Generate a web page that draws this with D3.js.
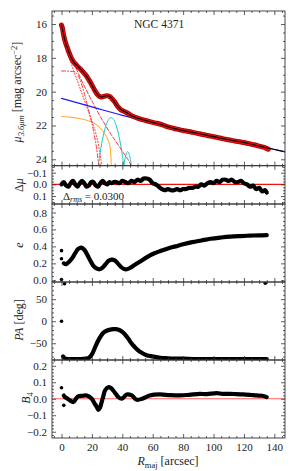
<!DOCTYPE html>
<html>
<head>
<meta charset="utf-8">
<script src="https://cdn.jsdelivr.net/npm/d3@7"></script>
<style>
  body { margin: 0; background: #fff; }
  svg text { font-family: "Liberation Serif", "DejaVu Serif", serif; fill: #222; }
</style>
</head>
<body>
<svg id="chart" width="293" height="471"></svg>
<script>
// surface brightness profile (data)
var profR = [0, 0.5, 1, 1.5, 2, 3, 4, 5, 6, 7, 8, 9, 10, 11, 12, 13, 14, 15, 16, 17, 18, 19, 20, 21, 22, 23, 24, 25, 26, 27, 28, 29, 30, 31, 32, 33, 34, 35, 36, 37, 38, 39, 40, 41, 42, 43, 44, 45, 46, 47, 48, 50, 52, 54, 56, 58, 60, 62, 64, 66, 68, 70, 72, 74, 76, 78, 80, 82, 84, 86, 88, 90, 92, 94, 96, 98, 100, 102, 104, 106, 108, 110, 112, 114, 116, 118, 120, 122, 124, 126, 128, 130, 132, 134, 136];
var profMu = [16.06, 16.2, 16.45, 16.7, 16.9, 17.2, 17.45, 17.7, 17.92, 18.1, 18.25, 18.35, 18.45, 18.55, 18.62, 18.72, 18.82, 18.92, 19.02, 19.15, 19.3, 19.45, 19.62, 19.78, 19.95, 20.1, 20.2, 20.28, 20.32, 20.3, 20.28, 20.25, 20.24, 20.26, 20.3, 20.4, 20.5, 20.6, 20.75, 20.88, 20.98, 21.07, 21.12, 21.16, 21.2, 21.25, 21.3, 21.36, 21.42, 21.46, 21.5, 21.56, 21.62, 21.67, 21.72, 21.77, 21.82, 21.86, 21.9, 21.95, 22.02, 22.08, 22.13, 22.18, 22.22, 22.26, 22.3, 22.33, 22.36, 22.4, 22.44, 22.48, 22.52, 22.55, 22.59, 22.62, 22.66, 22.7, 22.74, 22.78, 22.82, 22.85, 22.88, 22.92, 22.95, 22.98, 23.01, 23.05, 23.09, 23.13, 23.17, 23.22, 23.27, 23.32, 23.4];

// total model
var modelR = [0, 1, 2, 3, 4, 5, 6, 8, 10, 12, 14, 16, 18, 20, 22, 24, 26, 28, 30, 32, 34, 36, 38, 40, 42, 44, 46, 48, 52, 56, 60, 65, 70, 75, 80, 90, 100, 110, 120, 130, 140, 147];
var modelMu = [16.06, 16.45, 16.9, 17.2, 17.45, 17.7, 17.92, 18.25, 18.45, 18.62, 18.82, 19.02, 19.3, 19.62, 19.95, 20.2, 20.32, 20.28, 20.24, 20.3, 20.5, 20.75, 20.98, 21.12, 21.2, 21.3, 21.42, 21.5, 21.62, 21.72, 21.82, 21.93, 22.08, 22.2, 22.3, 22.48, 22.66, 22.85, 23.01, 23.22, 23.42, 23.56];

// components
var diskR = [0, 20, 40, 60, 80, 100, 120, 147];
var diskMu = [20.4, 20.9, 21.4, 21.84, 22.3, 22.66, 23.01, 23.56];
var bulgeR = [0, 2, 4, 6, 8, 10, 12, 14, 16, 18, 20, 23, 26, 29, 32, 35, 38, 41, 44, 46];
var bulgeMu = [16.3, 16.9, 17.45, 17.9, 18.3, 18.7, 19.1, 19.5, 19.85, 20.2, 20.55, 21.05, 21.55, 22.0, 22.45, 22.85, 23.25, 23.65, 24.05, 24.4];
var barR = [3, 5, 7, 9, 11, 13, 15, 17, 19, 21, 23, 25, 26.5];
var barMu = [17.6, 18.0, 18.5, 19.0, 19.5, 20.0, 20.5, 21.0, 21.5, 22.0, 22.6, 23.5, 24.4];
var lensR = [0, 3, 6, 9, 11, 13, 15, 17, 19, 21, 23, 24.5];
var lensMu = [18.78, 18.78, 18.8, 18.85, 19.05, 19.5, 20.1, 20.8, 21.5, 22.3, 23.3, 24.4];
var flatR = [0, 5, 10, 15, 20, 24, 27, 29.5, 31, 32, 32.5, 32.7];
var flatMu = [21.48, 21.5, 21.56, 21.65, 21.8, 22.02, 22.3, 22.65, 22.95, 23.3, 23.8, 24.4];
var ring1R = [24.2, 25, 26, 27, 28, 29, 30, 31, 32, 32.6, 33.5, 35, 36, 37, 38, 39, 40, 41];
var ring1Mu = [24.4, 23.88, 23.3, 22.81, 22.4, 22.06, 21.81, 21.64, 21.55, 21.54, 21.57, 21.77, 22.01, 22.32, 22.72, 23.2, 23.76, 24.4];
var ring2R = [41, 42, 43, 43.5, 44, 45, 46];
var ring2Mu = [24.4, 23.86, 23.58, 23.55, 23.58, 23.86, 24.4];

// residuals
var resR = [0, 1.5, 3, 4.5, 6, 7.5, 9, 10.5, 12, 13.5, 15, 16.5, 18, 19.5, 21, 22.5, 24, 25.5, 27, 28.5, 30, 31.5, 33, 34.5, 36, 38, 40, 42, 44, 46, 48, 50, 52, 54, 56, 58, 60, 62, 64, 66, 68, 70, 72, 74, 76, 78, 80, 82, 84, 86, 88, 90, 92, 94, 96, 98, 100, 102, 104, 106, 108, 110, 112, 114, 116, 118, 120, 122, 124, 126, 128, 130, 132, 134, 135];
var resDmu = [0.0, -0.02, 0.01, 0.02, -0.01, -0.03, 0.0, 0.02, -0.01, -0.03, -0.01, 0.02, 0.01, -0.02, -0.02, 0.01, 0.02, -0.01, -0.03, -0.01, 0.0, -0.02, -0.01, -0.02, -0.02, -0.01, -0.03, -0.02, -0.01, -0.03, -0.02, -0.04, -0.03, -0.05, -0.05, -0.04, -0.01, 0.0, 0.02, 0.04, 0.05, 0.04, 0.05, 0.05, 0.04, 0.05, 0.04, 0.04, 0.03, 0.03, 0.02, 0.02, 0.0, 0.01, -0.01, -0.02, -0.01, -0.03, -0.02, -0.04, -0.04, -0.03, -0.04, -0.02, -0.02, -0.03, -0.01, 0.0, 0.02, 0.01, 0.04, 0.03, 0.06, 0.05, 0.07];
var rmsText = "0.0300";

// ellipticity
var ellR = [1.5, 3, 5, 7, 9, 11, 13, 15, 17, 19, 21, 23, 25, 27, 29, 31, 33, 35, 37, 39, 41, 43, 45, 48, 52, 56, 60, 65, 70, 75, 80, 86, 92, 98, 105, 111, 118, 124, 130, 135];
var ellE = [0.2, 0.19, 0.22, 0.26, 0.32, 0.37, 0.385, 0.36, 0.3, 0.23, 0.17, 0.14, 0.13, 0.15, 0.19, 0.23, 0.245, 0.235, 0.2, 0.16, 0.135, 0.13, 0.145, 0.18, 0.225, 0.27, 0.31, 0.345, 0.375, 0.4, 0.425, 0.45, 0.47, 0.49, 0.505, 0.515, 0.522, 0.527, 0.53, 0.532];
var ellOutR = [0, 0, 0];
var ellOutE = [0.35, 0.255, 0.01];

// position angle
var paR = [1, 2, 4, 8, 12, 16, 18, 20, 22, 24, 26, 28, 30, 32, 34, 36, 38, 40, 42, 44, 46, 48, 50, 53, 56, 60, 65, 70, 80, 90, 100, 110, 120, 135];
var paDeg = [-80, -84, -86, -86, -86, -85, -83, -75, -60, -45, -33, -25, -21, -19, -18, -18, -20, -24, -31, -40, -50, -58, -65, -72, -77, -80, -83, -84, -85, -86, -86, -86, -86, -86];
var paOutR = [0, 2, 134];
var paOutDeg = [0, 85, 86];

// B4
var b4R = [1.5, 2.3, 4, 5.6, 7.8, 9.5, 11, 14, 16.6, 19.9, 21.5, 23.2, 24.2, 25.3, 26.4, 27.5, 28.6, 30.8, 32.5, 34, 35.7, 37.4, 39.6, 41.2, 42.9, 46.2, 49.5, 53, 58, 64.8, 71, 78, 84, 91, 95.5, 102, 106, 111, 115, 119.6, 124, 128, 132, 135];
var b4Val = [0.02, 0.01, 0.0, -0.01, -0.02, 0.0, 0.014, 0.018, 0.02, 0.0, -0.025, -0.05, -0.067, -0.055, -0.02, 0.015, 0.05, 0.07, 0.065, 0.05, 0.03, 0.01, 0.0, 0.012, 0.026, 0.02, -0.006, 0.0, 0.02, 0.026, 0.022, 0.02, 0.024, 0.03, 0.028, 0.034, 0.03, 0.03, 0.028, 0.026, 0.024, 0.02, 0.018, 0.01];
var b4OutR = [0, 1.5];
var b4OutVal = [0.067, -0.04];

// x ticks
var xTicks = [0, 20, 40, 60, 80, 100, 120, 140];

var svg = d3.select("#chart");
var left = 52, right = 285;
var x = d3.scaleLinear().domain([-6.25, 147]).range([left, right]);

var panels = [
  { top: 11, bottom: 165.7, dom: [15.23, 24.38], major: [16, 18, 20, 22, 24], minor: d3.range(15.5, 24.3, 0.5), fmt: d3.format("d") },
  { top: 165.7, bottom: 204, dom: [-0.16, 0.168], major: [-0.1, 0, 0.1], minor: d3.range(-0.15, 0.16, 0.025), fmt: d3.format(".1f") },
  { top: 204, bottom: 282, dom: [0.9, -0.02], major: [0, 0.2, 0.4, 0.6, 0.8], minor: d3.range(0, 0.9, 0.05), fmt: d3.format(".1f") },
  { top: 282, bottom: 360, dom: [89, -88], major: [-50, 0, 50], minor: d3.range(-80, 81, 10), fmt: d3.format("d") },
  { top: 360, bottom: 438, dom: [0.235, -0.238], major: [-0.2, -0.1, 0, 0.1, 0.2], minor: d3.range(-0.22, 0.23, 0.02), fmt: d3.format(".1f") }
];

var xMinor = d3.range(-5, 146, 5);

panels.forEach(function (p, i) {
  p.y = d3.scaleLinear().domain(p.dom).range([p.top, p.bottom]);
  var clipId = "clip" + i;
  svg.append("clipPath").attr("id", clipId).append("rect")
    .attr("x", left).attr("y", p.top).attr("width", right - left).attr("height", p.bottom - p.top);
  p.g = svg.append("g").attr("clip-path", "url(#" + clipId + ")");
});

function axisStyle(sel) {
  sel.select(".domain").remove();
  sel.selectAll("line").attr("stroke", "#333").attr("stroke-width", 0.8);
  sel.selectAll("text").attr("font-size", 11).attr("font-family", "Liberation Serif").attr("fill", "#222");
}

// frames and ticks
panels.forEach(function (p, i) {
  var isLast = i === panels.length - 1;
  var minorY = p.minor.filter(function (v) { return !p.major.some(function (m) { return Math.abs(m - v) < 1e-6; }); });
  var minorX = xMinor.filter(function (v) { return v % 20 !== 0; });

  svg.append("g").attr("transform", "translate(" + left + ",0)")
    .call(d3.axisLeft(p.y).tickValues(p.major).tickSize(-4).tickPadding(5).tickFormat(p.fmt)).call(axisStyle);
  svg.append("g").attr("transform", "translate(" + left + ",0)")
    .call(d3.axisLeft(p.y).tickValues(minorY).tickSize(-2).tickFormat("")).call(axisStyle);
  svg.append("g").attr("transform", "translate(" + right + ",0)")
    .call(d3.axisRight(p.y).tickValues(p.major).tickSize(-4).tickFormat("")).call(axisStyle);
  svg.append("g").attr("transform", "translate(" + right + ",0)")
    .call(d3.axisRight(p.y).tickValues(minorY).tickSize(-2).tickFormat("")).call(axisStyle);

  svg.append("g").attr("transform", "translate(0," + p.top + ")")
    .call(d3.axisTop(x).tickValues(xTicks).tickSize(-4).tickFormat("")).call(axisStyle);
  svg.append("g").attr("transform", "translate(0," + p.top + ")")
    .call(d3.axisTop(x).tickValues(minorX).tickSize(-2).tickFormat("")).call(axisStyle);
  svg.append("g").attr("transform", "translate(0," + p.bottom + ")")
    .call(d3.axisBottom(x).tickValues(xTicks).tickSize(-4).tickPadding(5).tickFormat(isLast ? d3.format("d") : "")).call(axisStyle);
  svg.append("g").attr("transform", "translate(0," + p.bottom + ")")
    .call(d3.axisBottom(x).tickValues(minorX).tickSize(-2).tickFormat("")).call(axisStyle);

  svg.append("rect").attr("x", left).attr("y", p.top).attr("width", right - left).attr("height", p.bottom - p.top)
    .attr("fill", "none").attr("stroke", "#333").attr("stroke-width", 0.9);
});

function pairs(a, b) { return a.map(function (v, k) { return [v, b[k]]; }); }

function drawLine(p, xs, ys, color, width, dash, curve) {
  var line = d3.line().x(function (d) { return x(d[0]); }).y(function (d) { return p.y(d[1]); })
    .curve(curve || d3.curveCatmullRom);
  p.g.append("path").datum(pairs(xs, ys)).attr("d", line).attr("fill", "none")
    .attr("stroke", color).attr("stroke-width", width)
    .attr("stroke-dasharray", dash || null)
    .attr("stroke-linejoin", "round").attr("stroke-linecap", "round");
}

function drawDots(p, xs, ys, r, color) {
  p.g.selectAll(null).data(pairs(xs, ys)).enter().append("circle")
    .attr("cx", function (d) { return x(d[0]); }).attr("cy", function (d) { return p.y(d[1]); })
    .attr("r", r).attr("fill", color);
}

// Panel 1: profile and components
var p1 = panels[0];
drawLine(p1, flatR, flatMu, "#ffa514", 1);
drawLine(p1, ring1R, ring1Mu, "#20c8c8", 1);
drawLine(p1, ring2R, ring2Mu, "#20c8c8", 1);
drawLine(p1, bulgeR, bulgeMu, "#ff3030", 1, "4,2");
drawLine(p1, barR, barMu, "#ff3030", 1, "1,2");
drawLine(p1, lensR, lensMu, "#ff3030", 1, "4,2,1,2");
drawLine(p1, diskR, diskMu, "#1a1aff", 1.2);
drawLine(p1, profR, profMu, "#b00000", 5);
drawLine(p1, profR, profMu, "#e01010", 3.4);
drawLine(p1, modelR, modelMu, "#000", 1.1);

// Panel 2: residuals
var p2 = panels[1];
drawLine(p2, [-10, 150], [0, 0], "#ee1111", 1.2, null, d3.curveLinear);
drawLine(p2, resR, resDmu, "#000", 4.2);

// Panel 3: ellipticity
var p3 = panels[2];
drawLine(p3, ellR, ellE, "#000", 4.2);
drawDots(p3, ellOutR, ellOutE, 1.8, "#000");

// Panel 4: PA
var p4 = panels[3];
drawLine(p4, paR, paDeg, "#000", 4.2);
drawDots(p4, paOutR, paOutDeg, 1.8, "#000");

// Panel 5: B4
var p5 = panels[4];
drawLine(p5, [-10, 150], [0, 0], "#ff6060", 1.2, null, d3.curveLinear);
drawLine(p5, b4R, b4Val, "#000", 4.2);
drawDots(p5, b4OutR, b4OutVal, 1.8, "#000");

// titles
svg.append("text").attr("x", 134).attr("y", 28).attr("font-size", 11.5).text("NGC 4371");

var t = svg.append("text").attr("x", 63).attr("y", 199.5).attr("font-size", 11);
t.append("tspan").text("Δ");
t.append("tspan").attr("font-style", "italic").attr("font-size", 8).attr("dy", 2).text("rms");
t.append("tspan").attr("dy", -2).text(" = " + rmsText);

function yTitle(cx, cy) {
  return svg.append("text").attr("transform", "translate(" + cx + "," + cy + ") rotate(-90)")
    .attr("text-anchor", "middle").attr("font-size", 12);
}

var ty1 = yTitle(21, 92);
ty1.append("tspan").attr("font-style", "italic").text("μ");
ty1.append("tspan").attr("font-style", "italic").attr("font-size", 8.5).attr("dy", 2.5).text("3.6μm");
ty1.append("tspan").attr("dy", -2.5).text(" [mag arcsec");
ty1.append("tspan").attr("font-size", 8.5).attr("dy", -4).text("−2");
ty1.append("tspan").attr("dy", 4).text("]");

var ty2 = yTitle(23, 185);
ty2.append("tspan").text("Δ");
ty2.append("tspan").attr("font-style", "italic").text("μ");

var ty3 = yTitle(23, 245);
ty3.append("tspan").attr("font-style", "italic").text("e");

var ty4 = yTitle(23, 320);
ty4.append("tspan").attr("font-style", "italic").text("PA");
ty4.append("tspan").text(" [deg]");

var ty5 = yTitle(30, 398);
ty5.append("tspan").attr("font-style", "italic").text("B");
ty5.append("tspan").attr("font-size", 8.5).attr("dy", 2.5).text("4");

var tx = svg.append("text").attr("x", 168).attr("y", 465).attr("text-anchor", "middle").attr("font-size", 12);
tx.append("tspan").attr("font-style", "italic").text("R");
tx.append("tspan").attr("font-size", 8.5).attr("dy", 2.5).text("maj");
tx.append("tspan").attr("dy", -2.5).text(" [arcsec]");
</script>
</body>
</html>
